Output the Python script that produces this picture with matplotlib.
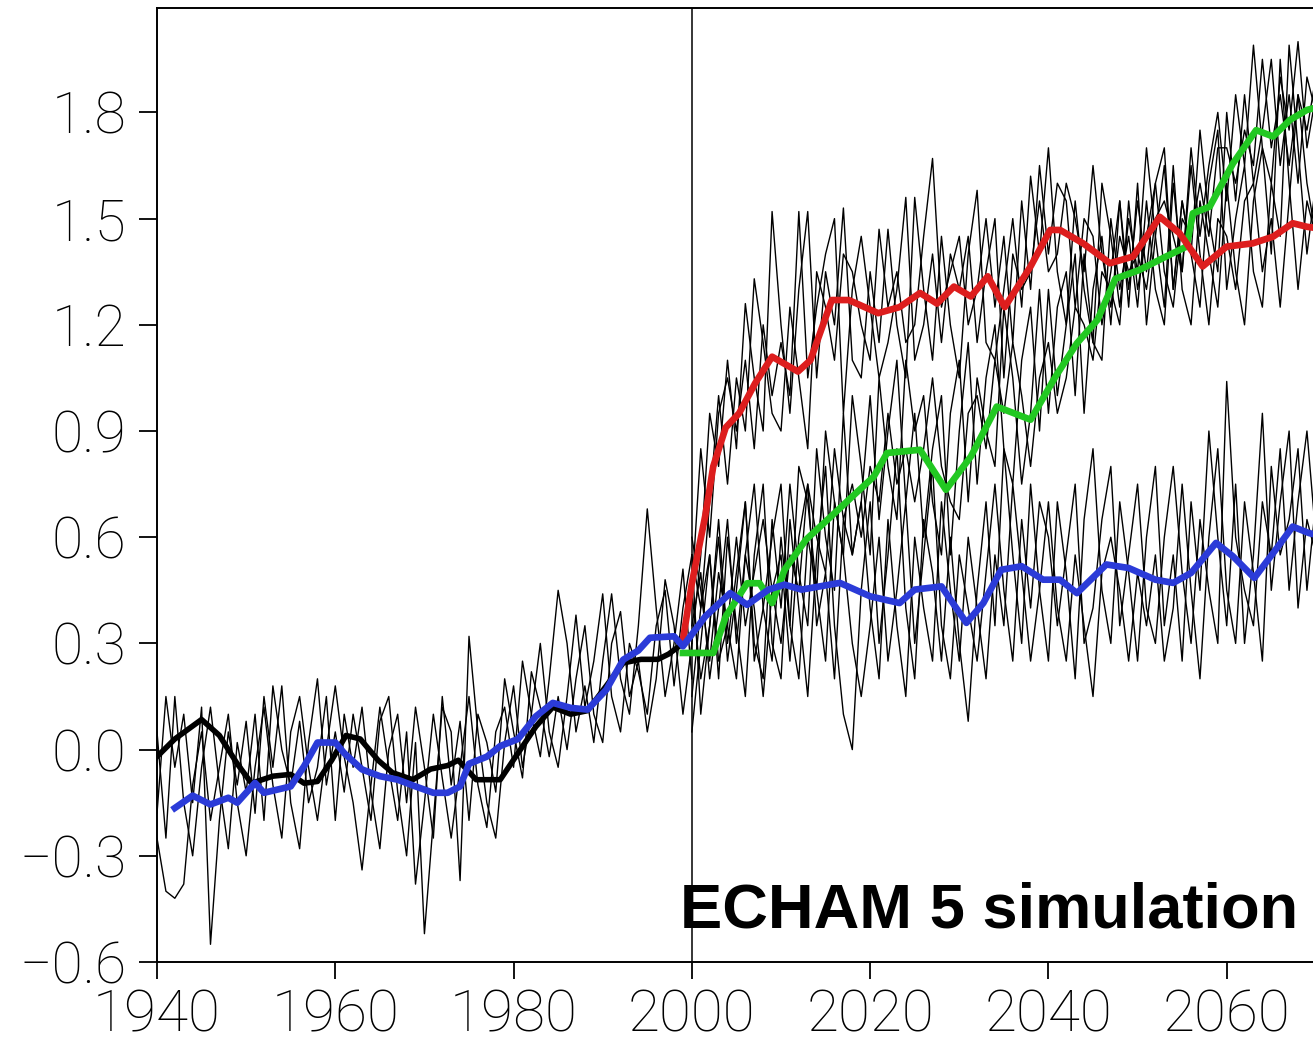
import numpy as np
import matplotlib.pyplot as plt

plt.rcParams['font.family'] = ['Roboto', 'Liberation Sans', 'DejaVu Sans']

# --- ensemble members, historical period (annual) ---
years_hist = np.arange(1940, 2001)
hist_1 = [-0.25, -0.40, -0.42, -0.38, -0.10, 0.05, -0.20, -0.05, 0.10, -0.15,
          -0.30, -0.05, 0.12, -0.10, -0.25, 0.05, 0.15, -0.05, -0.20, 0.00,
          0.18, -0.02, -0.15, -0.34, -0.10, 0.12, -0.05, -0.20, 0.05, -0.38,
          -0.15, 0.10, -0.08, -0.25, -0.05, 0.15, -0.10, -0.22, 0.05, 0.12,
          -0.05, 0.25, 0.10, -0.02, 0.20, 0.45, 0.30, 0.05, 0.18, 0.02,
          0.25, 0.44, 0.20, 0.10, 0.35, 0.68, 0.40, 0.15, 0.30, 0.51,
          0.20]
hist_2 = [-0.18, 0.15, -0.05, 0.10, -0.15, 0.12, -0.55, -0.20, 0.05, -0.10,
          0.08, -0.18, 0.15, -0.05, 0.18, -0.15, -0.28, 0.02, 0.20, -0.10,
          0.05, -0.12, 0.10, -0.05, -0.20, 0.08, 0.15, -0.12, -0.30, 0.02,
          -0.52, -0.20, 0.12, 0.05, -0.37, 0.32, 0.05, -0.15, -0.25, 0.02,
          0.18, -0.05, 0.10, 0.30, 0.05, -0.05, 0.15, 0.38, 0.12, 0.25,
          0.44, 0.15, 0.05, 0.30, 0.22, 0.10, 0.35, 0.45, 0.18, 0.40,
          0.55]
hist_3 = [0.05, -0.25, 0.15, -0.15, -0.30, -0.05, 0.12, -0.10, -0.28, 0.02,
          -0.12, 0.10, -0.20, 0.18, 0.00, -0.10, 0.08, -0.15, -0.05, 0.15,
          -0.20, 0.10, -0.05, 0.12, -0.12, -0.28, 0.00, 0.10, -0.15, 0.12,
          -0.05, -0.25, 0.15, -0.10, 0.08, -0.20, 0.10, 0.02, -0.12, 0.20,
          0.05, -0.08, 0.22, 0.12, -0.02, 0.15, 0.00, 0.20, 0.35, 0.10,
          0.02, 0.30, 0.39, 0.15, 0.25, 0.05, 0.20, 0.48, 0.35, 0.10,
          0.30]

# --- ensemble members, scenario period (annual) ---
years_proj = np.arange(2000, 2071)
red_1 = [0.30, 0.55, 0.95, 0.80, 1.10, 0.85, 1.26, 1.05, 0.90, 1.52,
         1.20, 0.95, 1.30, 1.52, 1.05, 1.35, 1.20, 1.53, 1.10, 1.05,
         1.35, 1.15, 1.47, 1.20, 1.05, 1.56, 1.30, 1.10, 1.45, 1.20,
         1.05, 1.40, 1.58, 1.15, 1.10, 1.30, 1.50, 1.25, 1.62, 1.40,
         1.70, 1.35, 1.20, 1.55, 1.30, 1.15, 1.60, 1.45, 1.25, 1.50,
         1.35, 1.70, 1.45, 1.25, 1.65, 1.30, 1.20, 1.55, 1.40, 1.25,
         1.60, 1.35, 1.20, 1.55, 1.70, 1.40, 1.95, 1.60, 1.30, 1.55,
         1.45]
red_2 = [0.55, 0.40, 0.70, 1.00, 0.75, 1.05, 0.90, 1.33, 1.15, 0.95,
         0.90, 1.25, 1.05, 0.85, 1.35, 1.25, 1.10, 1.40, 1.35, 1.20,
         1.10, 1.47, 1.25, 1.35, 1.15, 1.20, 1.45, 1.67, 1.25, 1.35,
         1.45, 1.20, 1.30, 1.50, 1.25, 1.45, 1.15, 1.55, 1.30, 1.65,
         1.40, 1.60, 1.55, 1.25, 1.50, 1.45, 1.20, 1.35, 1.55, 1.30,
         1.55, 1.35, 1.60, 1.70, 1.30, 1.55, 1.40, 1.25, 1.60, 1.75,
         1.30, 1.50, 1.65, 1.35, 1.25, 1.60, 1.45, 1.99, 1.70, 1.40,
         1.60]
red_3 = [0.45, 0.85, 0.60, 0.95, 1.05, 0.90, 1.10, 0.85, 1.20, 1.00,
         1.15, 1.00, 1.52, 1.05, 1.25, 1.40, 1.50, 0.95, 1.30, 1.45,
         1.25, 1.05, 1.15, 1.30, 1.56, 1.10, 1.20, 1.40, 1.15, 1.40,
         1.30, 1.45, 1.15, 1.35, 1.50, 1.05, 1.40, 1.30, 1.35, 1.55,
         1.35, 1.40, 1.60, 1.50, 1.35, 1.65, 1.40, 1.25, 1.45, 1.35,
         1.40, 1.30, 1.50, 1.55, 1.45, 1.35, 1.65, 1.40, 1.20, 1.50,
         1.45, 1.30, 1.55, 1.60, 1.35, 1.50, 1.25, 1.55, 1.85, 1.60,
         1.45]
green_1 = [0.55, 0.10, 0.35, 0.60, 0.25, 0.45, 0.70, 0.30, 0.20, 0.65,
           0.40, 0.75, 0.50, 0.35, 0.85, 0.60, 0.45, 0.95, 0.55, 0.70,
           1.00, 0.65, 0.90, 1.10, 0.70, 0.95, 0.60, 0.85, 1.00, 0.55,
           0.90, 1.15, 0.75, 1.05, 1.20, 0.85, 0.75, 1.10, 1.25, 0.90,
           1.30, 1.00, 1.20, 1.40, 0.95, 1.30, 1.45, 1.20, 1.55, 1.25,
           1.60, 1.20, 1.45, 1.65, 1.30, 1.55, 1.40, 1.75, 1.50, 1.35,
           1.80, 1.55, 1.85, 1.60, 1.75, 1.95, 1.65, 1.85, 1.60, 1.90,
           1.80]
green_2 = [0.35, 0.50, 0.20, 0.40, 0.65, 0.30, 0.55, 0.75, 0.40, 0.25,
           0.60, 0.35, 0.80, 0.70, 0.45, 0.90, 0.70, 0.55, 1.00, 0.80,
           0.55, 1.05, 0.80, 0.65, 1.10, 0.90, 1.00, 0.70, 0.55, 0.95,
           1.10, 0.70, 1.05, 0.90, 0.80, 1.25, 1.05, 0.75, 0.95, 1.30,
           0.95, 1.25, 1.35, 1.00, 1.40, 1.15, 1.10, 1.50, 1.30, 1.45,
           1.25, 1.55, 1.30, 1.20, 1.60, 1.35, 1.70, 1.45, 1.65, 1.80,
           1.55, 1.85, 1.65, 1.99, 1.70, 1.60, 1.90, 1.75, 2.00, 1.70,
           1.85]
green_3 = [0.15, 0.40, 0.55, 0.25, 0.35, 0.60, 0.35, 0.50, 0.65, 0.45,
           0.30, 0.55, 0.45, 0.75, 0.60, 0.50, 0.85, 0.65, 0.75, 0.60,
           0.80, 0.70, 0.95, 0.75, 0.85, 0.70, 0.85, 1.05, 0.80, 0.70,
           0.65, 0.95, 1.00, 0.85, 1.10, 0.95, 1.15, 1.00, 0.80, 1.05,
           1.15, 0.95, 1.05, 1.25, 1.20, 1.10, 1.35, 1.30, 1.20, 1.55,
           1.30, 1.45, 1.60, 1.35, 1.25, 1.50, 1.45, 1.60, 1.45, 1.70,
           1.70, 1.60, 1.75, 1.65, 1.95, 1.70, 1.85, 1.65, 1.85, 1.75,
           1.90]
blue_1 = [0.05, 0.30, 0.55, 0.20, 0.60, 0.35, 0.15, 0.55, 0.75, 0.30,
          0.20, 0.65, 0.40, 0.15, 0.55, 0.80, 0.35, 0.10, 0.00, 0.45,
          0.70, 0.30, 0.55, 0.85, 0.40, 0.20, 0.65, 0.50, 0.25, 0.60,
          0.30, 0.08, 0.45, 0.70, 0.35, 0.85, 0.55, 0.30, 0.75, 0.45,
          0.25, 0.70, 0.50, 0.20, 0.65, 0.85, 0.45, 0.30, 0.70, 0.50,
          0.25, 0.60, 0.80, 0.35, 0.55, 0.25, 0.70, 0.45, 0.90, 0.60,
          0.35, 0.75, 0.30, 0.55, 0.95, 0.45, 0.70, 0.90, 0.40, 0.65,
          0.55]
blue_2 = [0.45, 0.20, 0.35, 0.65, 0.30, 0.50, 0.70, 0.25, 0.40, 0.60,
          0.75, 0.35, 0.20, 0.60, 0.45, 0.25, 0.70, 0.55, 0.30, 0.15,
          0.35, 0.60, 0.25, 0.45, 0.70, 0.30, 0.55, 0.80, 0.35, 0.20,
          0.55, 0.40, 0.25, 0.50, 0.75, 0.45, 0.25, 0.65, 0.40, 0.70,
          0.60, 0.35, 0.55, 0.75, 0.30, 0.40, 0.65, 0.80, 0.35, 0.55,
          0.75, 0.40, 0.30, 0.60, 0.80, 0.50, 0.30, 0.65, 0.45, 0.30,
          1.04, 0.60, 0.45, 0.35, 0.70, 0.55, 0.85, 0.45, 0.70, 0.90,
          0.60]
blue_3 = [0.60, 0.45, 0.25, 0.50, 0.35, 0.20, 0.55, 0.40, 0.15, 0.45,
          0.55, 0.25, 0.60, 0.75, 0.35, 0.50, 0.20, 0.65, 0.55, 0.70,
          0.40, 0.20, 0.65, 0.35, 0.15, 0.60, 0.40, 0.25, 0.70, 0.45,
          0.25, 0.60, 0.40, 0.20, 0.55, 0.35, 0.75, 0.50, 0.25, 0.45,
          0.70, 0.40, 0.25, 0.55, 0.35, 0.15, 0.50, 0.60, 0.45, 0.25,
          0.50, 0.35, 0.55, 0.25, 0.40, 0.75, 0.45, 0.20, 0.60, 0.85,
          0.45, 0.30, 0.70, 0.50, 0.25, 0.80, 0.55, 0.65, 0.85, 0.45,
          0.70]

# --- smoothed curves (read points) ---
obs_years = [1940, 1942, 1945, 1947, 1949, 1950.6, 1953, 1955, 1956.5, 1958,
             1959.6, 1961.2, 1962.8, 1964.8, 1966.4, 1968.7, 1970.7, 1972.6,
             1973.8, 1975.8, 1978.5, 1980.5, 1982.5, 1984.4, 1986.4, 1988.3,
             1990.4, 1992.3, 1994.3, 1996.2, 1997.4, 1999]
obs_vals = [-0.02, 0.03, 0.085, 0.04, -0.04, -0.095, -0.075, -0.07, -0.095, -0.09,
            -0.03, 0.04, 0.03, -0.03, -0.065, -0.085, -0.055, -0.045,
            -0.03, -0.085, -0.085, -0.01, 0.065, 0.12, 0.10, 0.11,
            0.18, 0.245, 0.255, 0.255, 0.27, 0.30]

blue_years = [1942, 1944, 1946, 1948, 1949, 1951, 1952, 1955, 1956.5, 1958,
              1960, 1961, 1963, 1965, 1967, 1969, 1971, 1972.6, 1974, 1975,
              1977, 1978.5, 1980.5, 1982.5, 1984.4, 1986.4, 1988.3, 1990.4,
              1992.3, 1994, 1995.3, 1998, 1999, 2001.5, 2004.3, 2006.2, 2008.6,
              2010.4, 2012.3, 2016.6, 2020, 2023.3, 2025, 2028, 2030.8, 2032.7,
              2034.7, 2037, 2039.4, 2041.3, 2043.2, 2046.5, 2049, 2052, 2054,
              2056, 2058.8, 2060.7, 2063.1, 2065.5, 2067.4, 2069.2, 2071]
blue_vals = [-0.165, -0.13, -0.155, -0.136, -0.15, -0.094, -0.122, -0.104, -0.047, 0.02,
             0.02, -0.01, -0.056, -0.075, -0.085, -0.104, -0.122, -0.122, -0.104, -0.04,
             -0.02, 0.01, 0.03, 0.094, 0.132, 0.118, 0.113, 0.169,
             0.254, 0.28, 0.316, 0.32, 0.292, 0.376, 0.442, 0.409, 0.452,
             0.466, 0.452, 0.471, 0.433, 0.414, 0.452, 0.461, 0.358, 0.414,
             0.508, 0.518, 0.48, 0.48, 0.442, 0.523, 0.513, 0.48, 0.471,
             0.499, 0.584, 0.546, 0.485, 0.565, 0.63, 0.612, 0.60]

red_years = [1999, 2000, 2001.5, 2002.4, 2003.8, 2005.3, 2007.1, 2009, 2011.9,
             2013.3, 2015.7, 2017.6, 2020.9, 2023.3, 2025.6, 2027.5, 2029.4,
             2031.3, 2033.2, 2035.1, 2038, 2040.2, 2041.3, 2043.9, 2046.9,
             2049.5, 2052.5, 2054.7, 2057.3, 2060, 2062.9, 2065.2, 2067.4,
             2069, 2071]
red_vals = [0.31, 0.47, 0.66, 0.80, 0.91, 0.95, 1.035, 1.11, 1.068,
            1.10, 1.27, 1.27, 1.233, 1.25, 1.29, 1.26, 1.308,
            1.28, 1.337, 1.25, 1.365, 1.468, 1.468, 1.43, 1.374,
            1.393, 1.505, 1.459, 1.365, 1.421, 1.43, 1.449, 1.487,
            1.477, 1.47]

green_years = [1999, 2002.4, 2003.8, 2006.2, 2007.6, 2009, 2010.4, 2012.8, 2015.2,
               2018, 2020.4, 2021.9, 2025.6, 2028.5, 2031.3, 2034.2, 2038,
               2040.8, 2043.2, 2045.5, 2047.5, 2050.2, 2053.2, 2055.5, 2056.2,
               2058.1, 2060.7, 2063.3, 2065.2, 2067.1, 2069, 2071]
green_vals = [0.273, 0.273, 0.376, 0.47, 0.47, 0.414, 0.508, 0.593, 0.649,
              0.715, 0.771, 0.838, 0.847, 0.734, 0.828, 0.969, 0.932,
              1.054, 1.148, 1.214, 1.33, 1.355, 1.393, 1.421, 1.515,
              1.534, 1.656, 1.75, 1.732, 1.779, 1.807, 1.82]

y_ticks = [-0.6, -0.3, 0.0, 0.3, 0.6, 0.9, 1.2, 1.5, 1.8]
x_ticks = [1940, 1960, 1980, 2000, 2020, 2040, 2060]

fig = plt.figure(figsize=(13.13, 10.42), dpi=100)
# axes runs past the right edge of the figure (picture is cropped there)
ax = fig.add_axes([157 / 1313, 80 / 1042, 1248 / 1313, 954 / 1042])

for m in [hist_1, hist_2, hist_3]:
    ax.plot(years_hist, m, color='black', lw=1.0, zorder=2)
for m in [red_1, red_2, red_3, green_1, green_2, green_3, blue_1, blue_2, blue_3]:
    ax.plot(years_proj, m, color='black', lw=1.0, zorder=2)

ax.axvline(2000, color='black', lw=1.1, zorder=3)

ax.plot(obs_years, obs_vals, color='black', lw=4.0, zorder=4)
ax.plot(green_years, green_vals, color='#22c822', lw=4.8, zorder=5)
ax.plot(red_years, red_vals, color='#dd1e1e', lw=4.8, zorder=6)
ax.plot(blue_years, blue_vals, color='#2b3bd8', lw=4.8, zorder=7)

ax.set_xlim(1940, 2080)
ax.set_ylim(-0.6, 2.095)
ax.set_xticks(x_ticks)
ax.set_yticks(y_ticks)
ax.set_yticklabels([f'{v:.1f}'.replace('-', '\u2212') for v in y_ticks])

for s in ax.spines.values():
    s.set_linewidth(1.4)
ax.tick_params(axis='y', direction='out', length=13, width=1.3, pad=9, labelsize=41)
ax.tick_params(axis='x', direction='out', length=12, width=1.3, pad=7, labelsize=42)
for lab in ax.get_xticklabels() + ax.get_yticklabels():
    lab.set_fontweight('light')

fig.text(680 / 1313, (1042 - 927) / 1042, 'ECHAM 5 simulation',
         fontsize=45.5, fontweight='bold', family=['Liberation Sans', 'DejaVu Sans'],
         ha='left', va='baseline', zorder=10)

fig.savefig('out.png', dpi=100)
